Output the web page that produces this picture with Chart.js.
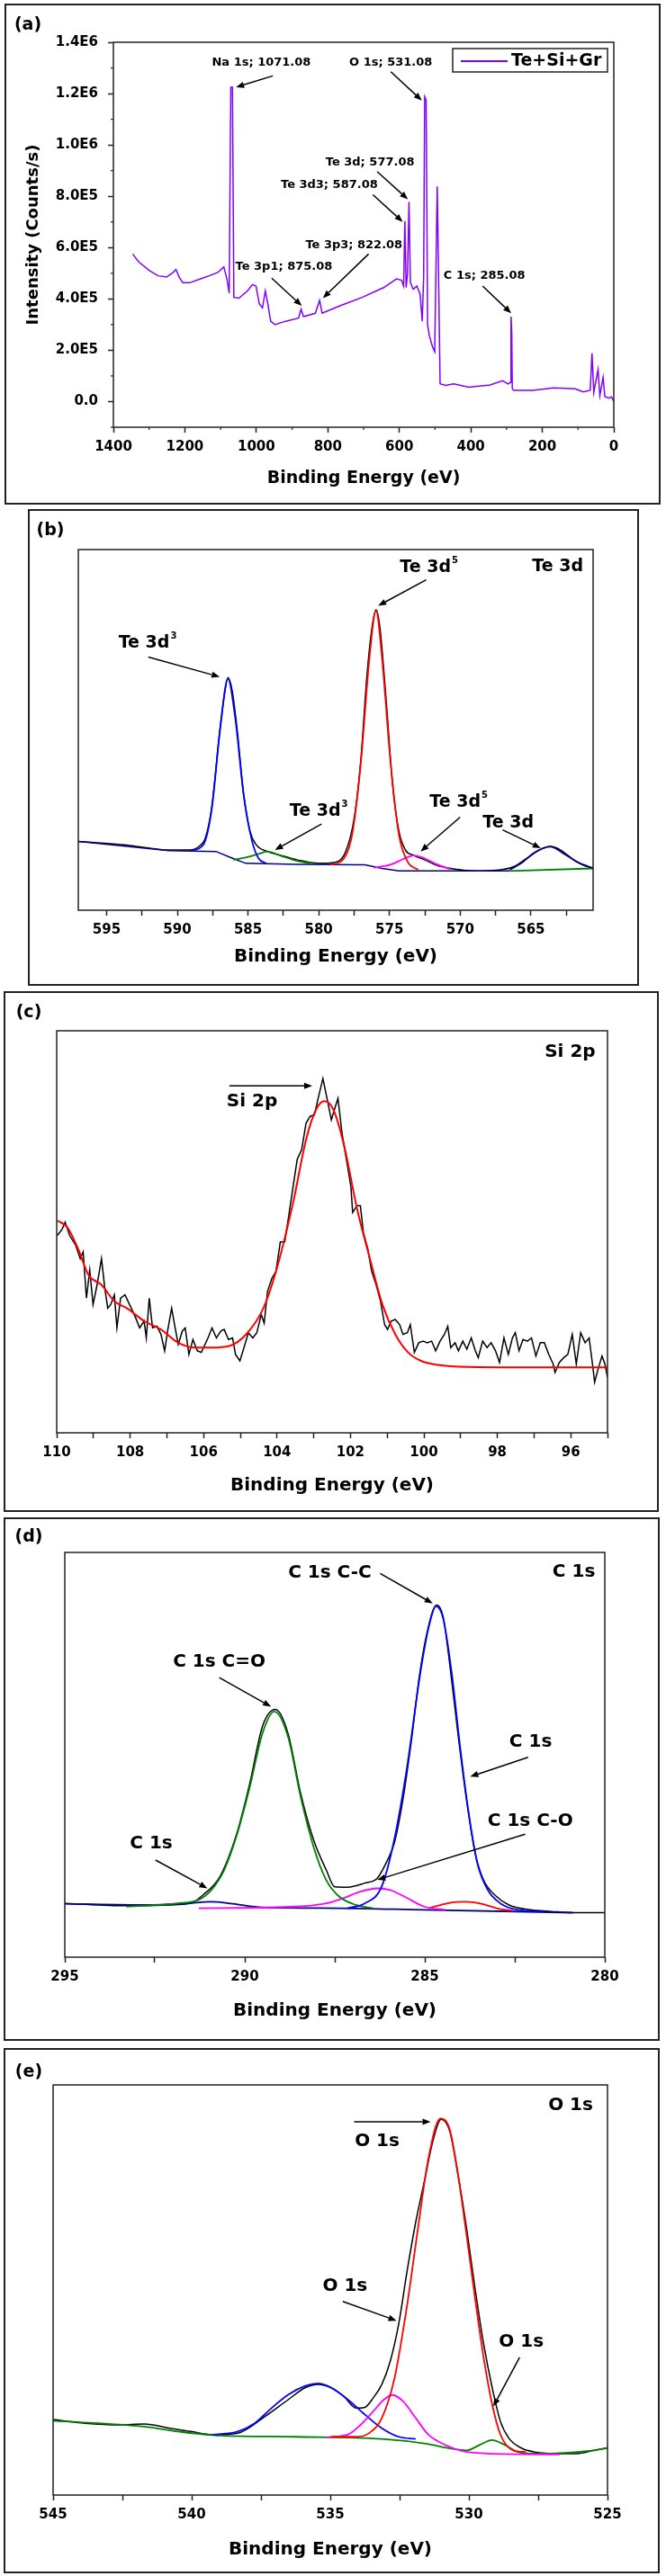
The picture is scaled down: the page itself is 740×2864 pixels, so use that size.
<!DOCTYPE html>
<html lang="en">
<head>
<meta charset="utf-8">
<title>XPS spectra - Te+Si+Gr</title>
<script src="https://cdn.jsdelivr.net/npm/chart.js"></script>
<style>
  body { margin: 0; background: #fff; width: 740px; height: 2864px; position: relative; }
  .panel { position: absolute; border: 2px solid #222; box-sizing: border-box; }
  .panel canvas { position: absolute; left: 0; top: 0; }
</style>
</head>
<body>
<div class="panel" style="left:5px;top:4px;width:729px;height:557px"><canvas id="chart-a" width="725" height="553"></canvas></div>
<div class="panel" style="left:31px;top:566px;width:679px;height:530px"><canvas id="chart-b" width="675" height="526"></canvas></div>
<div class="panel" style="left:4px;top:1102px;width:728px;height:579px"><canvas id="chart-c" width="724" height="575"></canvas></div>
<div class="panel" style="left:4px;top:1687px;width:729px;height:582px"><canvas id="chart-d" width="725" height="578"></canvas></div>
<div class="panel" style="left:4px;top:2277px;width:729px;height:584px"><canvas id="chart-e" width="725" height="580"></canvas></div>

<script>
// (a) survey spectrum, binding energy (eV) / intensity (counts/s)
const surveyE = [1346, 1329, 1299, 1275, 1251, 1233, 1225, 1216, 1206, 1186,
  1156, 1132, 1108, 1091, 1082, 1076, 1071.5, 1067, 1063, 1049,
  1025, 1011, 1001, 992, 983, 975, 968, 960, 948, 918,
  882, 875, 868, 835, 823, 816, 763, 704, 644, 608,
  594, 588, 584.5, 581, 577, 573, 569, 561, 551, 542,
  536, 532, 529, 525, 521, 516, 507, 501, 498, 494,
  491, 486, 471, 448, 406, 346, 311, 296, 289, 287.5,
  285.5, 284, 280, 227, 168, 108, 85, 66, 61, 56,
  44, 39, 30, 25, 13, 7, 0];
const surveyI = [5.75e5, 5.44e5, 5.10e5, 4.90e5, 4.85e5, 5.03e5, 5.15e5, 4.85e5, 4.63e5, 4.63e5,
  4.78e5, 4.90e5, 5.03e5, 5.25e5, 4.75e5, 4.23e5, 1.225e6, 1.225e6, 4.06e5, 4.03e5,
  4.31e5, 4.56e5, 4.50e5, 3.81e5, 3.65e5, 4.31e5, 3.81e5, 3.13e5, 3.00e5, 3.13e5,
  3.25e5, 3.60e5, 3.31e5, 3.44e5, 3.94e5, 3.44e5, 3.75e5, 4.06e5, 4.44e5, 4.78e5,
  4.73e5, 4.50e5, 7.03e5, 4.44e5, 5.00e5, 7.78e5, 4.63e5, 4.38e5, 4.50e5, 4.19e5,
  3.13e5, 4.88e5, 1.188e6, 1.175e6, 3.00e5, 2.56e5, 2.13e5, 1.94e5, 4.75e5, 8.38e5,
  5.63e5, 0.69e5, 0.63e5, 0.69e5, 0.56e5, 0.65e5, 0.81e5, 0.69e5, 0.75e5, 3.31e5,
  2.69e5, 0.50e5, 0.44e5, 0.44e5, 0.53e5, 0.50e5, 0.38e5, 0.44e5, 1.88e5, 0.35e5,
  1.25e5, 0.23e5, 0.94e5, 0.19e5, 0.13e5, 0.19e5, 0];
const surveyYTicks = ['0.0', '2.0E5', '4.0E5', '6.0E5', '8.0E5', '1.0E6', '1.2E6', '1.4E6'];
const surveyNotes = [
  { text: 'Na 1s; 1071.08', x: 986, y: 13.2e5, from: [954, 12.69e5], to: [1057, 12.25e5] },
  { text: 'O 1s; 531.08', x: 624, y: 13.2e5, from: [624, 12.85e5], to: [537, 11.73e5] },
  { text: 'Te 3d; 577.08', x: 682, y: 9.31e5, from: [662, 8.96e5], to: [576, 7.88e5] },
  { text: 'Te 3d3; 587.08', x: 796, y: 8.44e5, from: [674, 8.06e5], to: [590.5, 7.0e5] },
  { text: 'Te 3p3; 822.08', x: 727, y: 6.1e5, from: [686, 5.75e5], to: [814, 4.03e5] },
  { text: 'Te 3p1; 875.08', x: 923, y: 5.25e5, from: [957, 4.81e5], to: [873, 3.73e5] },
  { text: 'C 1s; 285.08', x: 362, y: 4.91e5, from: [367, 4.5e5], to: [287, 3.44e5] }
];

// (b) Te 3d, relative intensity 0-100
const te3dRawE = [597.05, 593.59, 590.58, 589.07, 588.47, 588.02, 587.57, 586.97, 586.66, 586.42,
  586.12, 585.76, 585.31, 584.86, 584.41, 583.65, 582.75, 581.55, 580.04, 578.84,
  578.09, 577.49, 577.03, 576.58, 576.19, 575.95, 575.68, 575.23, 574.78, 574.33,
  573.87, 573.27, 572.52, 571.62, 570.41, 568.91, 567.41, 566.20, 565.30, 564.40,
  563.64, 562.89, 561.99, 561.24, 560.58];
const te3dRawI = [19.1, 18.1, 16.7, 16.7, 17.7, 20.0, 28.4, 50.7, 60.0, 64.5,
  60.9, 49.8, 32.1, 21.9, 18.1, 16.3, 15.3, 14.0, 13.0, 13.3,
  16.3, 25.6, 41.4, 65.6, 79.5, 83.3, 78.6, 58.1, 34.9, 21.9,
  16.7, 15.2, 14.0, 12.4, 11.4, 10.9, 11.1, 12.1, 14.4, 16.7,
  17.7, 16.7, 14.0, 12.4, 11.6];
const te3dBlueE = [589.07, 588.17, 587.57, 586.97, 586.42, 585.91, 585.31, 584.71, 584.26, 583.72];
const te3dBlueI = [16.5, 18.1, 27.9, 50.2, 64.2, 53.5, 32.1, 19.1, 14.4, 13.0];
const te3dGreenE = [586.06, 585.16, 584.26, 583.65, 582.75, 581.55, 580.34];
const te3dGreenI = [14.0, 14.6, 15.6, 16.3, 15.2, 13.7, 12.9];
const te3dRedE = [579.14, 578.24, 577.64, 577.03, 576.43, 575.95, 575.53, 574.93, 574.33, 573.72, 572.97];
const te3dRedI = [12.6, 14.2, 20.9, 40.5, 69.3, 83.0, 70.2, 41.4, 20.9, 13.5, 11.2];
const te3dPinkE = [576.13, 574.93, 574.02, 573.27, 572.52, 571.62, 570.71];
const te3dPinkI = [11.8, 12.6, 14.2, 15.2, 14.4, 12.7, 11.4];
const te3dNavyE = [566.50, 565.60, 564.70, 563.64, 562.59, 561.69, 560.58];
const te3dNavyI = [11.2, 13.3, 16.1, 17.6, 15.5, 13.3, 11.6];
const te3dBgE = [597.05, 590.58, 587.27, 586.21, 585.16, 581.55, 576.73, 575.53, 574.33, 566.50];
const te3dBgI = [19.1, 16.5, 16.3, 14.6, 13.0, 12.7, 12.6, 11.6, 10.9, 10.9];
const te3dTailE = [566.50, 560.58];
const te3dTailI = [10.9, 11.6];
const te3dNotes = [
  { text: 'Te 3d', x: 563.1, y: 95.3 },
  { text: 'Te 3d', sup: '5', x: 572.2, y: 95, from: [572.4, 91.6], to: [575.8, 84.4] },
  { text: 'Te 3d', sup: '3', x: 592.1, y: 74, from: [592.05, 70.2], to: [587.0, 64.7] },
  { text: 'Te 3d', sup: '3', x: 580.0, y: 27.4, from: [579.8, 23.9], to: [583.1, 16.7] },
  { text: 'Te 3d', sup: '5', x: 570.1, y: 29.8, from: [570.0, 25.8], to: [572.8, 16.3] },
  { text: 'Te 3d', x: 566.6, y: 24.2, from: [567.0, 22.3], to: [564.3, 17.2] }
];

// (c) Si 2p
const siRawE = [109.98, 109.85, 109.77, 109.65, 109.48, 109.36, 109.28, 109.19, 109.10, 109.01,
  108.90, 108.78, 108.69, 108.61, 108.53, 108.43, 108.36, 108.26, 108.14, 107.97,
  107.85, 107.74, 107.62, 107.56, 107.48, 107.39, 107.27, 107.16, 107.06, 106.98,
  106.87, 106.79, 106.69, 106.58, 106.50, 106.40, 106.29, 106.17, 106.06, 105.88,
  105.77, 105.65, 105.53, 105.44, 105.32, 105.21, 105.13, 105.01, 104.90, 104.78,
  104.66, 104.55, 104.43, 104.35, 104.26, 104.14, 104.03, 103.91, 103.79, 103.68,
  103.56, 103.45, 103.33, 103.21, 103.10, 102.98, 102.87, 102.75, 102.63, 102.52,
  102.44, 102.34, 102.23, 102.11, 101.99, 101.94, 101.82, 101.73, 101.65, 101.53,
  101.42, 101.30, 101.18, 101.07, 100.99, 100.89, 100.78, 100.66, 100.57, 100.45,
  100.37, 100.26, 100.14, 100.02, 99.91, 99.79, 99.68, 99.56, 99.44, 99.35,
  99.27, 99.15, 99.06, 98.94, 98.83, 98.71, 98.60, 98.52, 98.40, 98.28,
  98.17, 98.05, 97.94, 97.82, 97.70, 97.59, 97.51, 97.41, 97.30, 97.18,
  97.07, 96.95, 96.83, 96.72, 96.60, 96.48, 96.43, 96.31, 96.19, 96.08,
  95.96, 95.85, 95.73, 95.61, 95.50, 95.42, 95.35, 95.27, 95.15, 95.07,
  95.00];
const siRawI = [49.1, 50.7, 52.4, 49.1, 46.6, 43.3, 45.0, 33.5, 40.5, 31.9,
  36.8, 43.3, 36.0, 31.0, 31.9, 34.3, 26.1, 33.5, 34.3, 31.0,
  28.6, 26.1, 27.8, 23.6, 33.5, 26.1, 26.5, 24.5, 20.4, 25.3,
  31.0, 26.9, 22.0, 25.3, 26.1, 19.5, 23.2, 20.4, 20.0, 23.6,
  26.1, 23.6, 25.3, 25.7, 23.2, 23.6, 19.5, 17.9, 21.2, 24.9,
  23.6, 24.9, 29.4, 27.3, 35.1, 38.4, 40.1, 47.5, 47.5, 54.0,
  61.4, 68.0, 70.4, 77.0, 78.7, 79.1, 83.6, 88.1, 82.8, 77.8,
  80.3, 83.2, 74.5, 68.0, 61.4, 54.8, 56.5, 56.5, 49.9, 45.8,
  40.1, 36.8, 32.7, 26.9, 25.7, 27.8, 28.2, 26.9, 24.5, 24.9,
  26.9, 20.0, 22.4, 22.8, 22.4, 22.8, 20.4, 22.8, 24.5, 26.5,
  21.2, 22.4, 20.4, 22.8, 20.8, 23.6, 20.4, 18.7, 22.8, 21.2,
  22.4, 20.4, 17.5, 23.6, 19.5, 23.6, 24.9, 20.4, 23.2, 22.8,
  23.6, 19.1, 22.4, 22.4, 19.5, 17.1, 15.0, 17.5, 18.7, 19.5,
  24.5, 17.1, 24.9, 22.4, 23.6, 17.9, 12.6, 15.4, 19.1, 17.1,
  13.8];
const siFitE = [109.98, 109.71, 109.42, 109.13, 108.78, 108.43, 108.09, 107.62, 107.16, 106.69,
  106.23, 105.77, 105.30, 104.84, 104.37, 104.03, 103.56, 103.21, 102.92, 102.71,
  102.46, 102.17, 101.82, 101.47, 101.13, 100.78, 100.43, 100.08, 99.62, 98.81,
  97.18, 95.00];
const siFitI = [52.8, 51.1, 45.8, 39.2, 36.8, 32.7, 31.0, 27.8, 25.7, 22.4,
  21.2, 21.2, 21.6, 24.5, 31.0, 40.1, 57.3, 72.9, 80.7, 82.5,
  80.3, 71.3, 55.7, 43.3, 31.9, 24.5, 20.0, 17.9, 16.9, 16.4,
  16.3, 16.3];
const siNotes = [
  { text: 'Si 2p', x: 96.02, y: 94.7 },
  { text: 'Si 2p', x: 104.68, y: 82.3, from: [105.3, 86.3], to: [103.04, 86.3] }
];

// (d) C 1s
const c1sRawE = [295.0, 293.29, 291.52, 291.16, 290.69, 290.22, 289.86, 289.51, 289.15, 288.80,
  288.45, 288.09, 287.74, 287.50, 287.15, 286.67, 286.32, 286.08, 285.85, 285.61,
  285.37, 285.14, 284.90, 284.67, 284.49, 284.31, 284.08, 283.84, 283.60, 283.37,
  283.01, 282.66, 282.07, 281.48, 280.89, 280.0];
const c1sRawI = [13.3, 12.7, 13.3, 15.4, 19.9, 30.6, 43.0, 57.0, 61.2, 55.3,
  40.5, 29.0, 21.6, 17.4, 17.3, 18.3, 19.5, 23.2, 28.1, 38.8,
  53.7, 70.1, 81.6, 87.0, 84.1, 72.6, 55.3, 38.8, 25.7, 19.1,
  15.0, 12.9, 11.7, 11.3, 11.0, 11.0];
const c1sGreenE = [293.29, 291.87, 291.28, 290.93, 290.57, 290.22, 289.86, 289.51, 289.18, 288.80,
  288.45, 288.09, 287.74, 287.38, 286.91, 286.44];
const c1sGreenI = [12.5, 13.3, 14.2, 16.6, 21.6, 30.2, 42.1, 55.3, 60.7, 54.5,
  39.7, 27.3, 19.1, 15.0, 12.9, 12.1];
const c1sBlueE = [287.15, 286.67, 286.20, 285.85, 285.49, 285.14, 284.90, 284.69, 284.49, 284.25,
  284.02, 283.78, 283.54, 283.25, 282.90, 282.42, 281.71];
const c1sBlueI = [12.1, 13.3, 17.4, 29.0, 47.1, 69.3, 81.2, 86.7, 83.7, 70.1,
  52.0, 35.6, 23.2, 16.6, 13.3, 11.7, 11.3];
const c1sPinkE = [291.28, 288.56, 287.74, 287.26, 286.79, 286.32, 285.96, 285.49, 285.02, 284.43];
const c1sPinkI = [12.1, 12.5, 13.3, 14.6, 16.2, 17.0, 16.6, 14.6, 12.5, 11.7];
const c1sRedE = [284.90, 284.55, 284.19, 283.84, 283.48, 283.01, 282.54];
const c1sRedI = [12.1, 12.9, 13.6, 13.7, 13.3, 12.1, 11.4];
const c1sNavyE = [295.0, 292.70, 291.75, 290.93, 290.33, 289.51, 287.38, 285.02, 280.89];
const c1sNavyI = [13.2, 12.9, 13.2, 13.7, 13.2, 12.3, 12.1, 11.7, 11.0];
const c1sNotes = [
  { text: 'C 1s', x: 280.86, y: 95.2 },
  { text: 'C 1s C-C', x: 287.64, y: 95.0, from: [286.24, 94.8], to: [284.78, 87.4] },
  { text: 'C 1s C=O', x: 290.71, y: 73.0, from: [290.71, 69.1], to: [289.27, 61.9] },
  { text: 'C 1s', x: 282.06, y: 53.1, from: [282.13, 49.4], to: [283.74, 44.6] },
  { text: 'C 1s C-O', x: 282.07, y: 33.7, from: [282.21, 30.4], to: [286.32, 19.1] },
  { text: 'C 1s', x: 292.60, y: 28.0, from: [292.48, 24.0], to: [291.04, 17.0] }
];

// (e) O 1s
const o1sRawE = [545.0, 543.85, 542.63, 541.71, 540.79, 540.03, 539.26, 538.34, 537.43, 536.51,
  535.90, 535.44, 534.98, 534.52, 534.06, 533.75, 533.45, 533.14, 532.83, 532.53,
  532.22, 531.92, 531.61, 531.30, 531.00, 530.69, 530.39, 530.08, 529.77, 529.47,
  529.16, 528.86, 528.55, 528.09, 527.63, 526.71, 526.10, 525.49, 525.0];
const o1sRawI = [18.4, 17.5, 17.1, 17.3, 16.3, 15.5, 14.7, 15.1, 18.8, 23.3,
  26.2, 27.0, 26.2, 24.1, 21.2, 21.4, 23.7, 27.0, 32.8, 41.8,
  55.0, 66.5, 76.4, 86.3, 91.6, 88.7, 78.0, 64.9, 50.0, 36.9,
  26.2, 17.9, 13.8, 11.4, 10.5, 10.1, 10.1, 10.9, 11.5];
const o1sRedE = [534.98, 534.06, 533.60, 533.14, 532.68, 532.22, 531.84, 531.46, 531.03, 530.69,
  530.39, 530.08, 529.77, 529.47, 529.16, 528.86, 528.40, 527.94];
const o1sRedI = [14.2, 14.2, 15.1, 18.8, 28.6, 46.7, 64.9, 82.1, 91.8, 89.1,
  78.0, 63.2, 47.6, 33.6, 22.1, 14.7, 10.9, 10.5];
const o1sBlueE = [539.26, 538.34, 537.73, 537.12, 536.51, 535.90, 535.44, 534.98, 534.37, 533.75, 533.14, 532.53, 531.92];
const o1sBlueI = [14.7, 15.5, 17.5, 21.2, 24.5, 26.6, 27.2, 26.2, 23.3, 19.6, 16.3, 14.2, 13.7];
const o1sPinkE = [535.13, 534.37, 533.91, 533.45, 533.06, 532.76, 532.38, 531.92, 531.46, 530.85, 530.23, 529.32, 526.71];
const o1sPinkI = [14.1, 14.7, 17.1, 20.4, 23.3, 24.4, 22.9, 18.8, 14.7, 12.2, 10.7, 10.1, 9.9];
const o1sGreenE = [545.0, 541.71, 540.49, 538.96, 536.20, 533.14, 531.61, 530.69, 530.08, 529.62,
  529.16, 528.70, 528.24, 527.63, 525.49, 525.0];
const o1sGreenI = [18.1, 16.7, 15.5, 14.5, 14.2, 13.7, 12.6, 11.4, 10.9, 12.2,
  13.4, 12.2, 10.5, 10.1, 10.9, 11.5];
const o1sNotes = [
  { text: 'O 1s', x: 526.33, y: 95.1 },
  { text: 'O 1s', x: 533.31, y: 86.3, from: [534.14, 91.0], to: [531.38, 91.0] },
  { text: 'O 1s', x: 534.47, y: 50.9, from: [534.55, 47.2], to: [532.61, 42.5] },
  { text: 'O 1s', x: 528.11, y: 37.3, from: [528.17, 33.6], to: [529.12, 21.6] }
];

Chart.defaults.font.family = '"DejaVu Sans", sans-serif';
Chart.defaults.font.weight = 'bold';
Chart.defaults.color = '#000';

const FONT = '"DejaVu Sans", sans-serif';

function drawArrow(ctx, x1, y1, x2, y2) {
  const ang = Math.atan2(y2 - y1, x2 - x1), L = 9, W = 3.5;
  const bx = x2 - L * Math.cos(ang), by = y2 - L * Math.sin(ang);
  ctx.strokeStyle = '#000';
  ctx.fillStyle = '#000';
  ctx.lineWidth = 1.5;
  ctx.beginPath();
  ctx.moveTo(x1, y1);
  ctx.lineTo(bx, by);
  ctx.stroke();
  ctx.beginPath();
  ctx.moveTo(x2, y2);
  ctx.lineTo(bx + W * Math.sin(ang), by - W * Math.cos(ang));
  ctx.lineTo(bx - W * Math.sin(ang), by + W * Math.cos(ang));
  ctx.closePath();
  ctx.fill();
}

function drawText(ctx, text, sup, cx, cy, size) {
  const big = `bold ${size}px ${FONT}`, small = `bold ${Math.round(size * 0.55)}px ${FONT}`;
  ctx.font = big;
  const w = ctx.measureText(text).width;
  let sw = 0;
  if (sup) { ctx.font = small; sw = ctx.measureText(sup).width + 1; }
  const left = cx - (w + sw) / 2;
  ctx.fillStyle = '#000';
  ctx.textAlign = 'left';
  ctx.textBaseline = 'middle';
  ctx.font = big;
  ctx.fillText(text, left, cy);
  if (sup) {
    ctx.font = small;
    ctx.fillText(sup, left + w + 1, cy - size * 0.42);
  }
}

// frame box, panel tag, peak labels, legend, minor ticks
const decor = {
  id: 'decor',
  afterDraw(chart, args, o) {
    const { ctx, chartArea: a, scales: { x, y } } = chart;
    ctx.save();
    ctx.strokeStyle = '#222';
    ctx.lineWidth = 1.5;
    ctx.strokeRect(a.left, a.top, a.right - a.left, a.bottom - a.top);

    if (o.minorX) {
      ctx.lineWidth = 1.2;
      x.ticks.forEach(t => {
        if (o.minorX(t.value)) {
          const px = x.getPixelForValue(t.value);
          ctx.beginPath(); ctx.moveTo(px, a.bottom); ctx.lineTo(px, a.bottom + 3); ctx.stroke();
        }
      });
      y.ticks.forEach(t => {
        if (o.minorY(t.value)) {
          const py = y.getPixelForValue(t.value);
          ctx.beginPath(); ctx.moveTo(a.left - 3, py); ctx.lineTo(a.left, py); ctx.stroke();
        }
      });
    }

    ctx.fillStyle = '#000';
    ctx.font = `bold 19px ${FONT}`;
    ctx.textAlign = 'center';
    ctx.textBaseline = 'middle';
    ctx.fillText(o.tag, o.tagAt[0], o.tagAt[1]);

    o.notes.forEach(n => {
      if (n.from) {
        drawArrow(ctx, x.getPixelForValue(n.from[0]), y.getPixelForValue(n.from[1]),
          x.getPixelForValue(n.to[0]), y.getPixelForValue(n.to[1]));
      }
      drawText(ctx, n.text, n.sup, x.getPixelForValue(n.x), y.getPixelForValue(n.y), o.noteSize);
    });

    if (o.legend) {
      const ds = chart.data.datasets[0];
      const bx = a.right - 179, by = a.top + 7;
      ctx.strokeStyle = '#222';
      ctx.lineWidth = 1.5;
      ctx.strokeRect(bx, by, 172, 26);
      ctx.strokeStyle = ds.borderColor;
      ctx.lineWidth = 2;
      ctx.beginPath(); ctx.moveTo(bx + 9, by + 14); ctx.lineTo(bx + 61, by + 14); ctx.stroke();
      ctx.fillStyle = '#000';
      ctx.font = `bold 19px ${FONT}`;
      ctx.textAlign = 'left';
      ctx.fillText(ds.label, bx + 65, by + 14);
    }
    ctx.restore();
  }
};

function near(v, step) {
  return Math.abs(v / step - Math.round(v / step)) < 1e-6;
}

function series(e, i, color, opts = {}) {
  return {
    label: opts.label || '',
    data: e.map((v, k) => ({ x: v, y: i[k] })),
    borderColor: color,
    borderWidth: opts.width || 1.8,
    pointRadius: 0,
    fill: false,
    tension: 0,
    cubicInterpolationMode: opts.smooth === false ? 'default' : 'monotone'
  };
}

function xpsPanel(id, p) {
  const yScale = p.survey ? {
    type: 'linear', min: -1e5, max: 1.4e6,
    afterFit: s => { s.width = p.left; },
    border: { display: false },
    grid: {
      drawOnChartArea: false, tickLength: 6, tickWidth: 1.5,
      tickColor: c => near(c.tick.value, 2e5) && c.tick.value >= 0 ? '#222' : 'rgba(0,0,0,0)'
    },
    ticks: {
      stepSize: 1e5, autoSkip: false, padding: 11, font: { size: 15, weight: 'bold' },
      callback: v => (v >= 0 && near(v, 2e5)) ? surveyYTicks[Math.round(v / 2e5)] : ''
    },
    title: { display: true, text: 'Intensity (Counts/s)', font: { size: 18, weight: 'bold' }, padding: { top: 20, bottom: 0 } }
  } : { type: 'linear', display: false, min: 0, max: 100 };

  return new Chart(document.getElementById(id), {
    type: 'line',
    data: { datasets: p.datasets },
    options: {
      responsive: false,
      animation: false,
      events: [],
      layout: { padding: { left: p.survey ? 0 : p.left, top: p.top, right: p.right, bottom: 0 } },
      plugins: {
        legend: { display: false },
        tooltip: { enabled: false },
        decor: {
          tag: p.tag, tagAt: p.tagAt, notes: p.notes, noteSize: p.noteSize, legend: !!p.survey,
          minorX: p.survey ? v => !near(v, 200) : null,
          minorY: p.survey ? v => !(v >= 0 && near(v, 2e5)) : null
        }
      },
      scales: {
        x: {
          type: 'linear', reverse: true, min: p.xMin, max: p.xMax,
          afterFit: s => { s.height = p.xh; },
          border: { display: false },
          grid: {
            drawOnChartArea: false, tickLength: 6, tickWidth: 1.5,
            tickColor: c => (!p.survey || near(c.tick.value, 200)) ? '#222' : 'rgba(0,0,0,0)'
          },
          ticks: {
            stepSize: p.step, includeBounds: false, autoSkip: false, maxRotation: 0,
            padding: 7, font: { size: p.survey ? 15 : 15, weight: 'bold' },
            callback: v => near(v, p.labelStep) ? String(Math.round(v)) : ''
          },
          title: {
            display: true, text: 'Binding Energy (eV)',
            font: { size: p.survey ? 19 : 20, weight: 'bold' },
            padding: { top: 0, bottom: p.titlePad }
          }
        },
        y: yScale
      }
    },
    plugins: [decor]
  });
}

xpsPanel('chart-a', {
  survey: true, left: 119, top: 41, right: 50, xh: 84, titlePad: 16,
  xMin: 0, xMax: 1400, step: 100, labelStep: 200,
  tag: '(a)', tagAt: [24, 22], notes: surveyNotes, noteSize: 13,
  datasets: [series(surveyE, surveyI, '#7f00ff', { label: 'Te+Si+Gr', width: 1.5, smooth: false })]
});

xpsPanel('chart-b', {
  left: 54, top: 43, right: 49, xh: 82, titlePad: 18,
  xMin: 560.6, xMax: 597, step: 2.5, labelStep: 5,
  tag: '(b)', tagAt: [23, 22], notes: te3dNotes, noteSize: 19,
  datasets: [
    series(te3dBlueE, te3dBlueI, '#0000ff'),
    series(te3dRedE, te3dRedI, '#ff0000'),
    series(te3dGreenE, te3dGreenI, '#008000'),
    series(te3dPinkE, te3dPinkI, '#ff00ff'),
    series(te3dNavyE, te3dNavyI, '#000080'),
    series(te3dTailE, te3dTailI, '#008000', { smooth: false }),
    series(te3dBgE, te3dBgI, '#000080', { smooth: false, width: 1.5 }),
    series(te3dRawE, te3dRawI, '#000000', { width: 1.5 })
  ]
});

xpsPanel('chart-c', {
  left: 57, top: 42, right: 55, xh: 86, titlePad: 15,
  xMin: 95, xMax: 110, step: 1, labelStep: 2,
  tag: '(c)', tagAt: [26, 22], notes: siNotes, noteSize: 20,
  datasets: [
    series(siFitE, siFitI, '#ff0000', { width: 2 }),
    series(siRawE, siRawI, '#000000', { width: 1.5, smooth: false })
  ]
});

xpsPanel('chart-d', {
  left: 66, top: 37, right: 59, xh: 91, titlePad: 19,
  xMin: 280, xMax: 295, step: 2.5, labelStep: 5,
  tag: '(d)', tagAt: [26, 20], notes: c1sNotes, noteSize: 20,
  datasets: [
    series(c1sBlueE, c1sBlueI, '#0000ff'),
    series(c1sGreenE, c1sGreenI, '#008000'),
    series(c1sPinkE, c1sPinkI, '#ff00ff'),
    series(c1sRedE, c1sRedI, '#ff0000'),
    series(c1sNavyE, c1sNavyI, '#000080'),
    series(c1sRawE, c1sRawI, '#000000', { width: 1.5 })
  ]
});

xpsPanel('chart-e', {
  left: 53, top: 39, right: 56, xh: 85, titlePad: 12,
  xMin: 525, xMax: 545, step: 2.5, labelStep: 5,
  tag: '(e)', tagAt: [26, 25], notes: o1sNotes, noteSize: 20,
  datasets: [
    series(o1sRedE, o1sRedI, '#ff0000'),
    series(o1sPinkE, o1sPinkI, '#ff00ff'),
    series(o1sBlueE, o1sBlueI, '#0000ff'),
    series(o1sGreenE, o1sGreenI, '#008000'),
    series(o1sRawE, o1sRawI, '#000000', { width: 1.5 })
  ]
});
</script>
</body>
</html>
